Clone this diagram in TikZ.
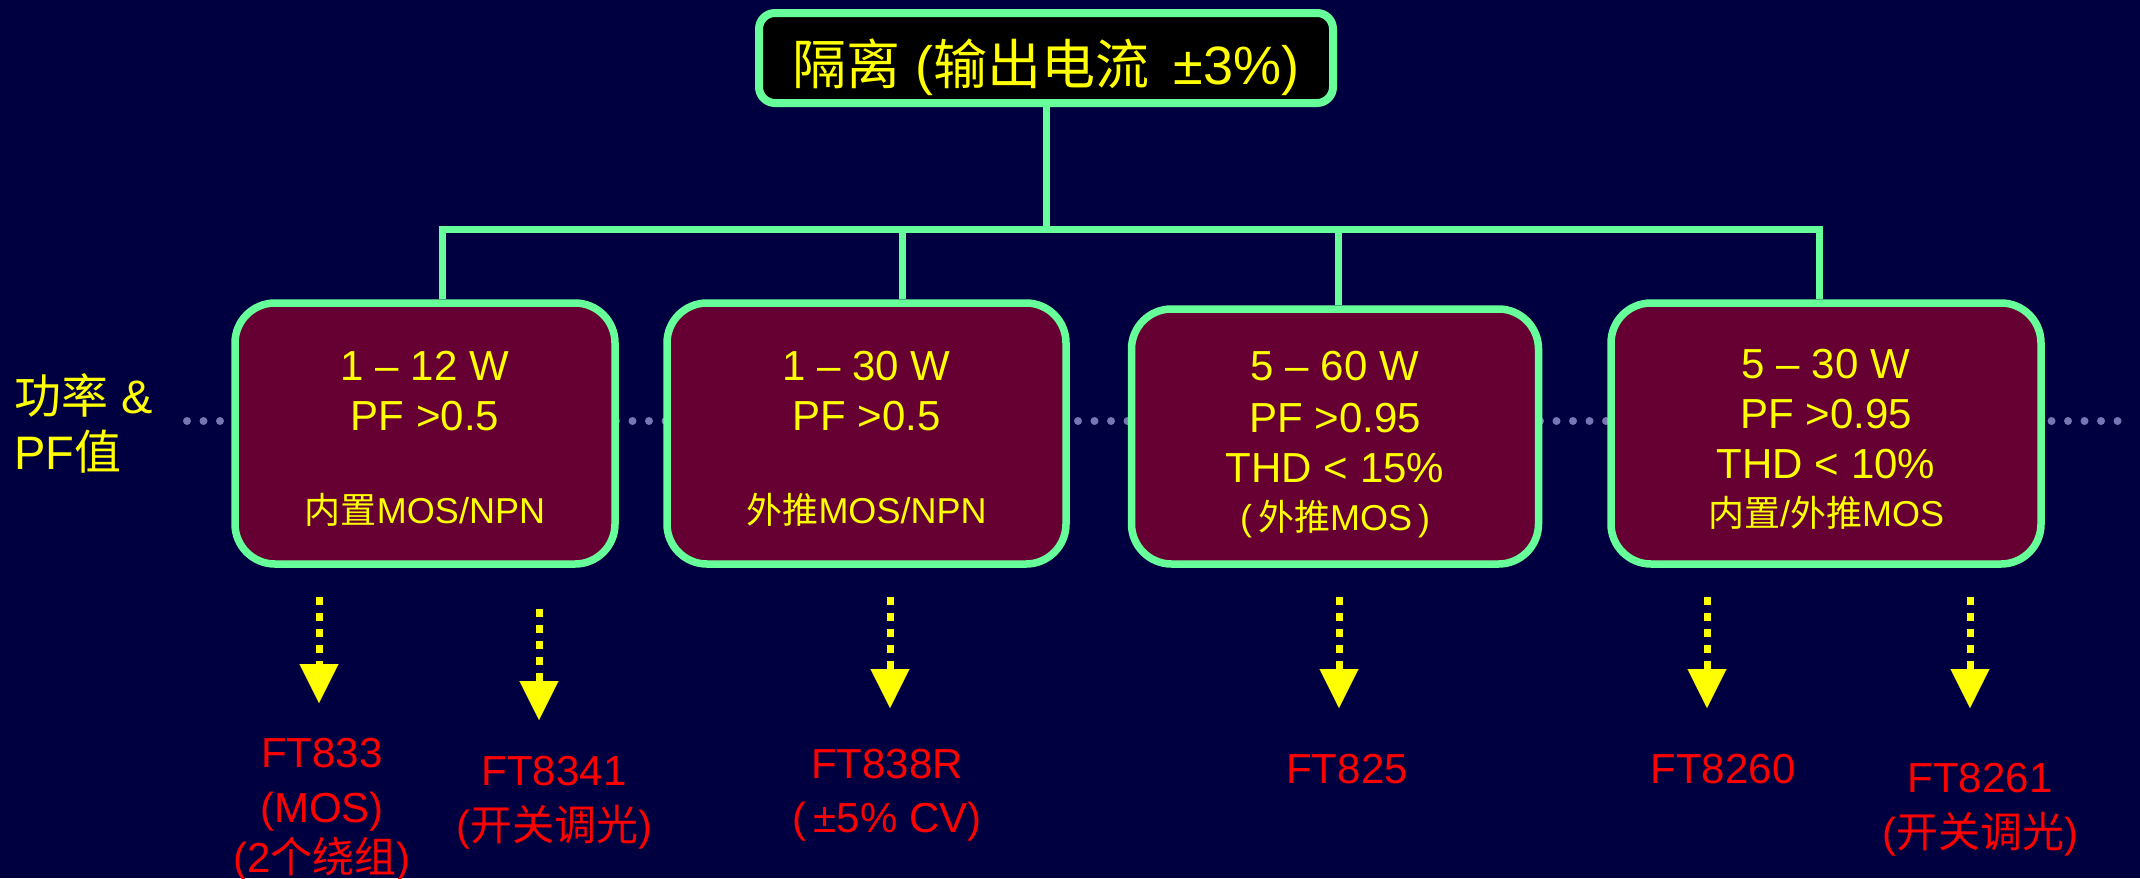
\documentclass[tikz,border=0pt]{standalone}
\usepackage{fontspec}
\setmainfont{Liberation Sans}
\newfontfamily\cjk{Noto Sans CJK SC}
\usetikzlibrary{arrows.meta}
\definecolor{bgc}{RGB}{0,0,64}
\definecolor{boxfill}{RGB}{102,0,51}
\definecolor{grn}{RGB}{102,255,153}
\definecolor{ylw}{RGB}{255,255,0}
\definecolor{rd}{RGB}{255,0,0}
\definecolor{dotc}{RGB}{118,118,178}
\tikzset{
  conn/.style={draw=grn, line width=7pt},
  catbox/.style={draw=grn, line width=7.5pt, fill=boxfill, rounded corners=40pt, inner sep=0pt},
  topbox/.style={draw=grn, line width=8pt, fill=black, rounded corners=16pt, inner sep=0pt},
  bigtxt/.style={text=ylw, font=\fontsize{42}{50}\selectfont, anchor=base, inner sep=0pt},
  smalltxt/.style={text=ylw, font=\fontsize{36}{42}\selectfont, anchor=base, inner sep=0pt},
  parttxt/.style={text=rd, font=\fontsize{42}{50}\selectfont, anchor=base, inner sep=0pt},
  sidetxt/.style={text=ylw, font=\fontsize{47}{54}\selectfont, anchor=base west, inner sep=0pt},
  darrow/.style={color=ylw, line width=7pt, dash pattern=on 7.5pt off 8.5pt, -{Triangle[length=39pt,width=39pt,line width=0.1pt]}},
  dotline/.style={draw=dotc, line width=8pt, line cap=round, dash pattern=on 0pt off 16.5pt}
}
\begin{document}
\begin{tikzpicture}[x=1pt,y=-1pt]
\fill[bgc] (0,0) rectangle (2140,878);
\useasboundingbox (0,0) rectangle (2140,878);

% dotted guide line
\coordinate (dl) at (187,421);
\coordinate (dr) at (2123,421);
\draw[dotline] (dl) -- (dr);

% left label
\node[sidetxt] (lab1) at (14,413) {{\cjk 功率} \&};
\node[sidetxt] (lab2) at (14,469) {PF{\cjk 值}};

% top box
\node[topbox, minimum width=574pt, minimum height=90pt] (top) at (1046,58) {};
\node[text=ylw, font=\fontsize{54}{62}\selectfont, anchor=base, inner sep=0pt] (toptxt) at (1046,84) {{\cjk 隔离} ({\cjk 输出电流}\ \,±3\%)};

% category boxes
\node[catbox, minimum width=380pt, minimum height=261pt] (b1) at (425,433.5) {};
\node[catbox, minimum width=399pt, minimum height=261pt] (b2) at (866.5,433.5) {};
\node[catbox, minimum width=407pt, minimum height=255pt] (b3) at (1335,436.5) {};
\node[catbox, minimum width=430pt, minimum height=261pt] (b4) at (1826,433.5) {};

% tree connectors
\coordinate (d1) at (442,229);
\coordinate (d2) at (902,229);
\coordinate (d3) at (1338,229);
\coordinate (d4) at (1819,229);
\draw[conn] (top.south) -- (top.south |- d1);
\draw[conn] (d1 |- b1.north) -- (d1) -- (d4) -- (d4 |- b4.north);
\draw[conn] (d2) -- (d2 |- b2.north);
\draw[conn] (d3) -- (d3 |- b3.north);

% box texts
\node[bigtxt] (b1a) at (425,380) {1 – 12 W};
\node[bigtxt] (b1b) at (425,430) {PF >0.5};
\node[smalltxt] (b1c) at (425,523) {{\cjk 内置}MOS/NPN};

\node[bigtxt] (b2a) at (866.5,380) {1 – 30 W};
\node[bigtxt] (b2b) at (866.5,430) {PF >0.5};
\node[smalltxt] (b2c) at (866.5,523) {{\cjk 外推}MOS/NPN};

\node[bigtxt] (b3a) at (1335,380) {5 – 60 W};
\node[bigtxt] (b3b) at (1335,432) {PF >0.95};
\node[bigtxt] (b3c) at (1335,482) {THD < 15\%};
\node[smalltxt] (b3d) at (1335,530) {(\,{\cjk 外推}MOS\,)};

\node[bigtxt] (b4a) at (1826,378) {5 – 30 W};
\node[bigtxt] (b4b) at (1826,428) {PF >0.95};
\node[bigtxt] (b4c) at (1826,478) {THD < 10\%};
\node[smalltxt] (b4d) at (1826,526) {{\cjk 内置}/{\cjk 外推}MOS};

% part labels
\node[parttxt] (p1a) at (322,767) {FT833};
\node[parttxt] (p1b) at (322,822) {(MOS)};
\node[parttxt] (p1c) at (322,872) {(2{\cjk 个绕组})};
\node[parttxt] (p2a) at (554,785) {FT8341};
\node[parttxt] (p2b) at (554,840) {({\cjk 开关调光})};
\node[parttxt] (p3a) at (887,778) {FT838R};
\node[parttxt] (p3b) at (887,832) {(\,±5\% CV)};
\node[parttxt] (p4a) at (1347,783) {FT825};
\node[parttxt] (p5a) at (1723,783) {FT8260};
\node[parttxt] (p6a) at (1980,792) {FT8261};
\node[parttxt] (p6b) at (1980,847) {({\cjk 开关调光})};

% arrows
\coordinate (a1s) at (319,597); \coordinate (a1e) at (319,703);
\coordinate (a2s) at (539,609); \coordinate (a2e) at (539,720);
\coordinate (a3s) at (890,597); \coordinate (a3e) at (890,708);
\coordinate (a4s) at (1339,597); \coordinate (a4e) at (1339,708);
\coordinate (a5s) at (1707,597); \coordinate (a5e) at (1707,708);
\coordinate (a6s) at (1970,597); \coordinate (a6e) at (1970,708);
\draw[darrow] (a1s) -- (a1e);
\draw[darrow] (a2s) -- (a2e);
\draw[darrow] (a3s) -- (a3e);
\draw[darrow] (a4s) -- (a4e);
\draw[darrow] (a5s) -- (a5e);
\draw[darrow] (a6s) -- (a6e);
\end{tikzpicture}
\end{document}
